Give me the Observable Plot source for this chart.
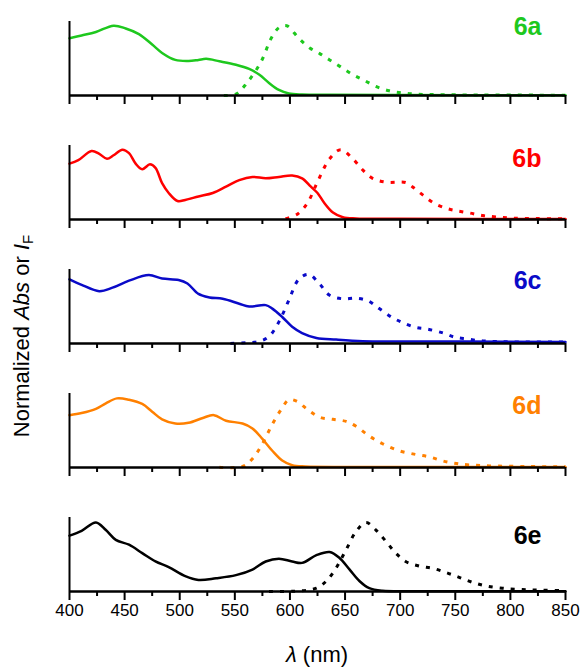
<!DOCTYPE html>
<html>
<head>
<meta charset="utf-8">
<script src="https://cdn.jsdelivr.net/npm/d3@7"></script>
<script src="https://cdn.jsdelivr.net/npm/@observablehq/plot@0.6"></script>
<style>
  html, body { margin: 0; padding: 0; background: #fff; }
  #chart { position: relative; width: 585px; height: 669px; font-family: "Liberation Sans", Arial, Helvetica, sans-serif; background: #fff; overflow: hidden; }
  #chart svg { position: absolute; left: 0; overflow: visible; }
  .ylab { position: absolute; width: 320px; height: 26px; line-height: 26px; left: -138px; top: 323px; text-align: center; font-size: 22px; transform: rotate(-90deg); transform-origin: 50% 50%; white-space: nowrap; color: #000; }
  .xlab { position: absolute; width: 300px; left: 167px; top: 642px; text-align: center; font-size: 22px; line-height: 26px; color: #000; }
  .ylab sub { font-size: 15px; vertical-align: -4px; }
</style>
</head>
<body>
<div id="chart"></div>
<script>
// ---- data ----
const compounds = ["6a", "6b", "6c", "6d", "6e"];
const colors = ["#1ec81e", "#ff0000", "#0a0ac8", "#ff8000", "#000000"];
const majorTicks = [400, 450, 500, 550, 600, 650, 700, 750, 800, 850];
const minorTicks = [425, 475, 525, 575, 625, 675, 725, 775, 825];

// absorption (solid) and emission (dotted), [wavelength nm, normalized value]
const abs6a = [[400,0.82],[411,0.86],[424,0.91],[440,1.0],[451,0.96],[463,0.88],[475,0.73],[484,0.61],[496,0.51],[508,0.495],[517,0.51],[524,0.525],[536,0.49],[551,0.44],[563,0.38],[572,0.30],[581,0.18],[590,0.08],[599,0.03],[611,0.014],[636,0.01],[700,0.006],[850,0.005]];
const em6a = [[540,0.0],[551,0.02],[561,0.18],[574,0.49],[583,0.82],[590,0.97],[597,1.0],[608,0.82],[618,0.68],[627,0.60],[636,0.51],[646,0.41],[657,0.30],[667,0.22],[678,0.13],[690,0.067],[702,0.038],[714,0.02],[727,0.014],[760,0.008],[850,0.005]];

const abs6b = [[400,0.80],[408,0.85],[420,0.98],[427,0.94],[434,0.87],[440,0.92],[448,1.0],[454,0.95],[460,0.80],[466,0.72],[473,0.79],[478,0.74],[484,0.52],[490,0.38],[498,0.265],[505,0.28],[517,0.33],[530,0.38],[542,0.47],[554,0.565],[566,0.61],[578,0.59],[590,0.61],[602,0.63],[611,0.59],[619,0.47],[625,0.38],[631,0.24],[639,0.10],[648,0.033],[660,0.014],[700,0.01],[850,0.008]];
const em6b = [[596,0.01],[607,0.08],[616,0.24],[625,0.54],[636,0.87],[646,1.0],[657,0.87],[666,0.71],[675,0.59],[687,0.535],[705,0.53],[711,0.47],[719,0.37],[730,0.24],[742,0.16],[751,0.126],[763,0.093],[775,0.056],[787,0.037],[802,0.019],[824,0.014],[850,0.01]];

const abs6c = [[400,0.92],[411,0.84],[427,0.75],[439,0.80],[454,0.90],[472,0.98],[484,0.93],[499,0.91],[507,0.86],[517,0.71],[527,0.66],[539,0.64],[554,0.57],[563,0.53],[578,0.55],[584,0.50],[593,0.38],[602,0.24],[611,0.15],[624,0.08],[642,0.056],[666,0.033],[696,0.028],[757,0.028],[850,0.02]];
const em6c = [[546,0.0],[560,0.01],[572,0.03],[581,0.10],[590,0.31],[599,0.62],[608,0.92],[617,0.99],[627,0.85],[636,0.69],[648,0.64],[660,0.65],[671,0.61],[681,0.50],[692,0.38],[702,0.30],[714,0.23],[725,0.205],[739,0.15],[749,0.093],[760,0.065],[775,0.037],[802,0.023],[850,0.02]];

const abs6d = [[400,0.75],[411,0.78],[424,0.84],[433,0.92],[443,0.99],[454,0.97],[466,0.91],[475,0.80],[484,0.69],[496,0.63],[508,0.64],[521,0.71],[531,0.75],[542,0.67],[557,0.63],[566,0.56],[575,0.41],[584,0.24],[593,0.10],[602,0.033],[614,0.014],[660,0.008],[850,0.006]];
const em6d = [[536,0.005],[557,0.014],[566,0.126],[575,0.34],[584,0.62],[592,0.83],[599,0.97],[606,0.95],[616,0.83],[627,0.72],[639,0.69],[651,0.66],[660,0.59],[672,0.45],[684,0.34],[699,0.24],[714,0.187],[727,0.15],[739,0.093],[751,0.056],[763,0.037],[781,0.023],[817,0.014],[850,0.01]];

const abs6e = [[400,0.80],[411,0.87],[424,0.99],[433,0.88],[442,0.74],[454,0.67],[466,0.55],[478,0.43],[490,0.35],[505,0.22],[517,0.165],[533,0.19],[551,0.235],[566,0.315],[578,0.43],[590,0.47],[602,0.43],[611,0.41],[624,0.52],[636,0.566],[645,0.48],[654,0.316],[663,0.15],[672,0.047],[684,0.01],[720,0.005],[850,0.005]];
const em6e = [[581,0.0],[605,0.005],[624,0.047],[633,0.15],[642,0.34],[651,0.60],[660,0.86],[669,0.99],[678,0.88],[687,0.72],[696,0.55],[705,0.43],[717,0.366],[730,0.33],[742,0.27],[754,0.20],[766,0.13],[778,0.08],[793,0.047],[811,0.028],[829,0.019],[850,0.014]];

const absorption = [abs6a, abs6b, abs6c, abs6d, abs6e];
const emission = [em6a, em6b, em6c, em6d, em6e];

// ---- layout ----
const W = 585, panelStep = 124, baselineY = 95, frameTop = 21;
const labelDy = [-4, 4, 2, 3, 9];
const fontStack = "'Liberation Sans', Arial, Helvetica, sans-serif";

const chart = document.getElementById("chart");

compounds.forEach((name, i) => {
  const last = i === compounds.length - 1;
  const h = last ? 669 - panelStep * i : panelStep;
  const color = colors[i];
  const svg = Plot.plot({
    width: W,
    height: h,
    marginLeft: 69,
    marginRight: 20,
    marginTop: frameTop,
    marginBottom: h - baselineY,
    x: {domain: [400, 850], axis: null},
    y: {domain: [0, 1.06], axis: null},
    style: {fontFamily: fontStack, background: "transparent", overflow: "visible", color: "#000"},
    marks: [
      Plot.line(absorption[i], {x: d => d[0], y: d => d[1], stroke: color, strokeWidth: 2.5, curve: "catmull-rom"}),
      Plot.line(emission[i], {x: d => d[0], y: d => d[1], stroke: color, strokeWidth: 3, strokeDasharray: "4,7", strokeLinecap: "butt", curve: "catmull-rom"}),
      Plot.ruleY([0], {stroke: "#000", strokeWidth: 2.5}),
      Plot.ruleX([400], {y1: 0, y2: 1.06, stroke: "#000", strokeWidth: 2}),
      Plot.axisX(majorTicks, {tickSize: 9, strokeWidth: 2, tickPadding: 3, fontSize: 17, tickFormat: last ? (d => String(d)) : (() => ""), label: null}),
      Plot.axisX(minorTicks, {tickSize: 5, strokeWidth: 2, tickFormat: () => "", label: null}),
      Plot.text([name], {text: d => d, frameAnchor: "top-right", dx: -24, dy: labelDy[i], fill: color, fontSize: 25, fontWeight: "bold"})
    ]
  });
  svg.style.top = (panelStep * i) + "px";
  chart.appendChild(svg);
});

const ylab = document.createElement("div");
ylab.className = "ylab";
ylab.innerHTML = "Normalized <i>Abs</i> or <i>I</i><sub>F</sub>";
chart.appendChild(ylab);

const xlab = document.createElement("div");
xlab.className = "xlab";
xlab.innerHTML = "<i>λ</i> (nm)";
chart.appendChild(xlab);
</script>
</body>
</html>
